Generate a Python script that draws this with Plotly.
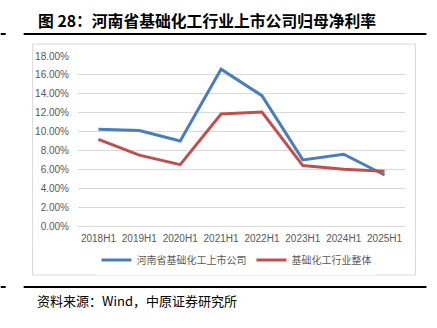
import plotly.graph_objects as go

# Half-year periods and net margin attributable to parent (fraction)
periods = ["2018H1", "2019H1", "2020H1", "2021H1", "2022H1", "2023H1", "2024H1", "2025H1"]
henan_listed = [0.1024, 0.1010, 0.0900, 0.1660, 0.1380, 0.0700, 0.0760, 0.0540]
industry_total = [0.0918, 0.0750, 0.0650, 0.1186, 0.1207, 0.0640, 0.0600, 0.0580]
y_ticks = [0, 0.02, 0.04, 0.06, 0.08, 0.10, 0.12, 0.14, 0.16, 0.18]

W, H = 437, 328
# plot area in pixels
PL, PR, PT, PB = 77.5, 405.5, 56, 226


def px(x):
    return (x - PL) / (PR - PL)


def py(y):
    return (PB - y) / (PB - PT)


CJK = "Noto Sans CJK SC"
GREY = "#595959"

fig = go.Figure()
fig.add_trace(go.Scatter(
    x=periods, y=henan_listed, mode="lines", name="河南省基础化工上市公司",
    line=dict(color="#4A7EBB", width=3),
))
fig.add_trace(go.Scatter(
    x=periods, y=industry_total, mode="lines", name="基础化工行业整体",
    line=dict(color="#C0504D", width=3),
))

shapes = [
    # chart frame
    dict(type="rect", xref="paper", yref="paper",
         x0=px(32), x1=px(416), y0=py(275), y1=py(44),
         line=dict(color="#D9D9D9", width=1), layer="below"),
    # heading and footer rules
    dict(type="line", xref="paper", yref="paper",
         x0=px(23), x1=px(427), y0=py(34), y1=py(34),
         line=dict(color="black", width=2)),
    dict(type="line", xref="paper", yref="paper",
         x0=px(0), x1=px(5), y0=py(34), y1=py(34),
         line=dict(color="black", width=2)),
    dict(type="line", xref="paper", yref="paper",
         x0=px(23), x1=px(427), y0=py(287), y1=py(287),
         line=dict(color="black", width=2)),
    dict(type="line", xref="paper", yref="paper",
         x0=px(0), x1=px(5), y0=py(287), y1=py(287),
         line=dict(color="black", width=2)),
]

annotations = [
    dict(text="<b>图 28：河南省基础化工行业上市公司归母净利率</b>",
         xref="paper", yref="paper", x=px(35), y=py(20),
         xanchor="left", yanchor="middle", showarrow=False,
         font=dict(family=CJK, size=15.8, color="black")),
    dict(text="资料来源：Wind，中原证券研究所",
         xref="paper", yref="paper", x=px(34), y=py(300),
         xanchor="left", yanchor="middle", showarrow=False,
         font=dict(family=CJK, size=13, color="black")),
]

fig.update_layout(
    width=W, height=H,
    margin=dict(l=PL, r=W - PR, t=PT, b=H - PB, pad=0),
    paper_bgcolor="white", plot_bgcolor="white",
    showlegend=True,
    legend=dict(orientation="h", x=px(96), xanchor="left",
                y=py(260), yanchor="middle",
                font=dict(family=CJK, size=10, color=GREY),
                itemwidth=30, tracegroupgap=0),
    xaxis=dict(range=[-0.5, len(periods) - 0.5],
               showgrid=False, showline=False, zeroline=False, ticks="",
               tickfont=dict(family="Liberation Sans", size=10, color=GREY),
               ticklabelstandoff=5, fixedrange=True),
    yaxis=dict(range=[0, 0.18], tickvals=y_ticks, tickformat=".2%",
               showgrid=True, gridcolor="#D9D9D9", gridwidth=1,
               zeroline=True, zerolinecolor="#D9D9D9", zerolinewidth=1,
               showline=False, ticks="",
               tickfont=dict(family="Liberation Sans", size=10, color=GREY),
               ticklabelstandoff=8, fixedrange=True),
    shapes=shapes,
    annotations=annotations,
)

fig.write_html("out.html")
